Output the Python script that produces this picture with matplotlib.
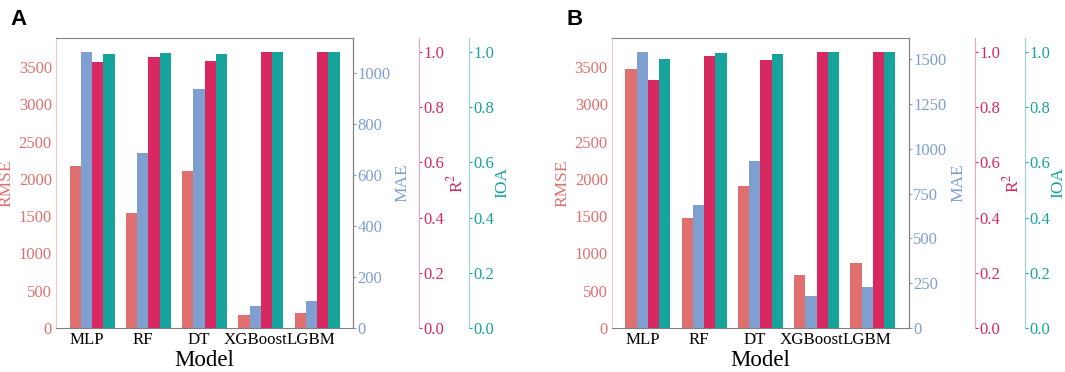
import numpy as np
import matplotlib
matplotlib.use("Agg")
import matplotlib.pyplot as plt

models = ["MLP", "RF", "DT", "XGBoost", "LGBM"]

rmse_a = [2168, 1542, 2105, 179, 197]
mae_a = [1082, 685, 935, 85, 107]
r2_a = [0.964, 0.982, 0.965, 1.0, 1.0]
ioa_a = [0.992, 0.996, 0.993, 1.0, 1.0]

rmse_b = [3469, 1480, 1909, 706, 867]
mae_b = [1543, 689, 932, 177, 227]
r2_b = [0.899, 0.986, 0.972, 1.0, 0.998]
ioa_b = [0.973, 0.996, 0.993, 1.0, 0.999]

mae_ticks_a = [0, 200, 400, 600, 800, 1000]
mae_ticks_b = [0, 250, 500, 750, 1000, 1250, 1500]
unit_ticks = [0.0, 0.2, 0.4, 0.6, 0.8, 1.0]
rmse_ticks = [0, 500, 1000, 1500, 2000, 2500, 3000, 3500]

C_RMSE = "#E07070"
C_MAE = "#7F9FD0"
C_R2 = "#D82862"
C_IOA = "#16A39C"

plt.rcParams["font.family"] = ["Liberation Serif", "DejaVu Serif"]
plt.rcParams["mathtext.fontset"] = "stix"

fig = plt.figure(figsize=(10.65, 3.72), dpi=100)

TICK_FS = 12
LAB_FS = 12.5


def panel(left, letter, rmse, mae, r2, ioa, mae_ticks):
    ax = fig.add_axes([left, 0.1183, 0.2789, 0.7796])
    x = np.arange(len(models))
    w = 0.2
    ax.bar(x - w, rmse, w, color=C_RMSE)
    ax.set_ylim(0, 3890)
    ax.set_yticks(rmse_ticks)
    ax.set_xticks(x)
    ax.set_xticklabels(models, fontsize=12.2)
    ax.set_xlabel("Model", fontsize=16.5, labelpad=1)
    ax.set_ylabel("RMSE", color=C_RMSE, fontsize=LAB_FS, labelpad=3)
    ax.tick_params(axis="y", colors=C_RMSE, labelsize=TICK_FS, length=0, pad=3)
    ax.tick_params(axis="x", length=0, pad=3)
    for s in ["top", "right", "bottom"]:
        ax.spines[s].set_color("#808080")
    ax.spines["left"].set_color("#F0C8C8")

    ax2 = ax.twinx()
    ax2.bar(x, mae, w, color=C_MAE)
    ax2.set_ylim(0, max(mae) * 1.05)
    ax2.set_yticks(mae_ticks)
    ax2.set_ylabel("MAE", color=C_MAE, fontsize=LAB_FS, labelpad=3)
    ax2.tick_params(axis="y", colors=C_MAE, labelsize=TICK_FS, length=2, pad=1)
    ax2.spines["right"].set_color("#808080")
    for s in ["top", "left", "bottom"]:
        ax2.spines[s].set_visible(False)

    ax3 = ax.twinx()
    ax3.bar(x + w, r2, w, color=C_R2)
    ax3.set_ylim(0, 1.05)
    ax3.set_yticks(unit_ticks)
    ax3.set_yticklabels([f"{t:.1f}" for t in unit_ticks])
    ax3.spines["right"].set_position(("axes", 1.222))
    ax3.spines["right"].set_color("#E6A8B8")
    for s in ["top", "left", "bottom"]:
        ax3.spines[s].set_visible(False)
    ax3.set_ylabel("R$^2$", color=C_R2, fontsize=LAB_FS, labelpad=2)
    ax3.tick_params(axis="y", colors=C_R2, labelsize=TICK_FS, length=2, pad=1)

    ax4 = ax.twinx()
    ax4.bar(x + 2 * w, ioa, w, color=C_IOA)
    ax4.set_ylim(0, 1.05)
    ax4.set_yticks(unit_ticks)
    ax4.set_yticklabels([f"{t:.1f}" for t in unit_ticks])
    ax4.spines["right"].set_position(("axes", 1.39))
    ax4.spines["right"].set_color("#98D4D0")
    for s in ["top", "left", "bottom"]:
        ax4.spines[s].set_visible(False)
    ax4.set_ylabel("IOA", color=C_IOA, fontsize=LAB_FS, labelpad=0)
    ax4.tick_params(axis="y", colors=C_IOA, labelsize=TICK_FS, length=2, pad=1)

    for a in (ax, ax2, ax3, ax4):
        a.set_xlim(-0.54, 4.74)

    fig.text(left - 0.043, 0.975, letter, fontsize=16, fontweight="bold",
             family="Liberation Sans", va="top", ha="left")


panel(0.0526, "A", rmse_a, mae_a, r2_a, ioa_a, mae_ticks_a)
panel(0.5746, "B", rmse_b, mae_b, r2_b, ioa_b, mae_ticks_b)

fig.savefig("out.png", dpi=100)
